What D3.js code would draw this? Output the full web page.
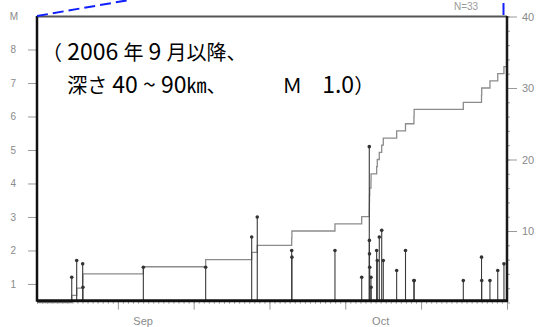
<!DOCTYPE html>
<html>
<head>
<meta charset="utf-8">
<script src="https://cdn.jsdelivr.net/npm/d3@7"></script>
<style>
  html, body { margin: 0; padding: 0; background: #fff; }
  svg { display: block; }
  .tick text { font-family: "Liberation Sans", Arial, sans-serif; }
</style>
</head>
<body>
<svg id="chart" width="547" height="327"></svg>
<script>
// Hypocentres at 40–90 km depth, M >= 1.0 (origin time, magnitude)
const eventTimes = [
  "2006-08-22T21:00", "2006-08-23T20:30", "2006-08-25T01:00", "2006-08-25T02:00",
  "2006-09-06T01:00", "2006-09-18T09:00", "2006-09-27T11:30", "2006-09-28T14:00",
  "2006-10-05T09:30", "2006-10-05T10:30", "2006-10-13T23:00", "2006-10-19T06:00",
  "2006-10-20T18:00", "2006-10-20T18:30", "2006-10-20T19:00", "2006-10-20T20:00",
  "2006-10-21T02:00", "2006-10-21T02:30", "2006-10-22T05:00", "2006-10-22T08:00",
  "2006-10-22T17:30", "2006-10-23T05:00", "2006-10-23T12:30", "2006-10-26T04:00",
  "2006-10-27T22:00", "2006-10-29T14:00", "2006-10-29T15:00", "2006-11-08T08:30",
  "2006-11-11T23:00", "2006-11-12T00:00", "2006-11-13T15:00", "2006-11-15T04:00",
  "2006-11-16T09:30"
];
const magnitudes = [
  1.2, 1.7, 1.6, 0.9,
  1.5, 1.5, 2.4, 3.0,
  2.0, 1.8, 2.0, 1.2,
  5.1, 2.3, 1.9, 1.5,
  1.2, 0.9, 2.0, 1.7,
  2.4, 2.6, 1.7, 1.4,
  2.0, 1.1, 1.1, 1.1,
  1.8, 1.1, 1.1, 1.4,
  1.6
];

// Axis settings
const periodStart = "2006-08-16";
const periodEnd = "2006-11-17";
const magDomain = [0.5, 9];
const magTicks = [1, 2, 3, 4, 5, 6, 7, 8];
const countDomain = [0, 40];
const countTicks = [10, 20, 30, 40];
const countMinorTicks = d3.range(0, 41, 2);
const majorDates = ["2006-09-01", "2006-09-16", "2006-10-01", "2006-10-16", "2006-10-31", "2006-11-17"];
const monthNames = ["Sep", "Oct"];
const monthNameDates = ["2006-09-06", "2006-10-23"];
const magAxisTitle = "M";
const noteLines = ["（ 2006 年 9 月以降、", "　 深さ 40 ~ 90㎞、　　     Ｍ　1.0）"];

const parseDay = d3.timeParse("%Y-%m-%d");
const parseTime = d3.timeParse("%Y-%m-%dT%H:%M");

const events = eventTimes.map((t, i) => ({ t: parseTime(t), m: magnitudes[i] }))
  .sort((a, b) => a.t - b.t);

const plotLeft = 37, plotRight = 507, plotTop = 16, plotBottom = 300.7;

const svg = d3.select("#chart");

const x = d3.scaleTime()
  .domain([parseDay(periodStart), parseDay(periodEnd)])
  .range([plotLeft, plotRight]);
const yM = d3.scaleLinear().domain(magDomain).range([plotBottom, plotTop]);
const yN = d3.scaleLinear().domain(countDomain).range([302.5, 16.5]);

const plot = svg.append("g");

// Cumulative number of events
const cumulative = [{ t: x.domain()[0], n: 0 }];
events.forEach((e, i) => cumulative.push({ t: e.t, n: i + 1 }));
cumulative.push({ t: x.domain()[1], n: events.length });

plot.append("path")
  .datum(cumulative)
  .attr("fill", "none")
  .attr("stroke", "#8c8c8c")
  .attr("stroke-width", 1.3)
  .attr("d", d3.line().curve(d3.curveStepAfter).x(d => x(d.t)).y(d => yN(d.n)));

// Magnitude stems
plot.selectAll("line.stem")
  .data(events)
  .join("line")
  .attr("class", "stem")
  .attr("x1", d => x(d.t)).attr("x2", d => x(d.t))
  .attr("y1", yM(magDomain[0])).attr("y2", d => yM(d.m))
  .attr("stroke", "#3a3a3a")
  .attr("stroke-width", 1.1);

plot.selectAll("circle.head")
  .data(events)
  .join("circle")
  .attr("class", "head")
  .attr("cx", d => x(d.t))
  .attr("cy", d => yM(d.m))
  .attr("r", 1.8)
  .attr("fill", "#333");

// Axes
const tickColor = "#9a9a9a";
const labelColor = "#8a8a8a";

function styleAxis(g) {
  g.select(".domain").remove();
  g.selectAll(".tick line").attr("stroke", tickColor);
  g.selectAll(".tick text").attr("fill", labelColor).attr("font-size", 10);
}

svg.append("g")
  .attr("transform", `translate(0,${plotBottom})`)
  .call(d3.axisBottom(x).ticks(d3.timeDay.every(1)).tickSize(3).tickFormat(""))
  .call(styleAxis);

svg.append("g")
  .attr("transform", `translate(0,${plotBottom})`)
  .call(d3.axisBottom(x).tickValues(majorDates.map(parseDay)).tickSize(9).tickFormat(""))
  .call(styleAxis);

svg.append("g")
  .selectAll("text")
  .data(monthNames)
  .join("text")
  .attr("x", (d, i) => x(parseDay(monthNameDates[i])))
  .attr("y", 325)
  .attr("text-anchor", "middle")
  .attr("font-family", "Liberation Sans, Arial, sans-serif")
  .attr("font-size", 11)
  .attr("fill", labelColor)
  .text(d => d);

svg.append("g")
  .attr("transform", `translate(${plotLeft},0)`)
  .call(d3.axisLeft(yM).tickValues(magTicks).tickSize(9).tickPadding(12).tickFormat(d3.format("d")))
  .call(styleAxis);

svg.append("text")
  .attr("x", 14)
  .attr("y", yM(magDomain[1]) + 4)
  .attr("text-anchor", "middle")
  .attr("font-family", "Liberation Sans, Arial, sans-serif")
  .attr("font-size", 10)
  .attr("fill", labelColor)
  .text(magAxisTitle);

svg.append("g")
  .attr("transform", `translate(${plotRight},0)`)
  .call(d3.axisRight(yN).tickValues(countMinorTicks).tickSize(3).tickFormat(""))
  .call(styleAxis);

svg.append("g")
  .attr("transform", `translate(${plotRight},0)`)
  .call(d3.axisRight(yN).tickValues(countTicks).tickSize(10).tickPadding(5).tickFormat(d3.format("d")))
  .call(styleAxis)
  .call(g => g.selectAll(".tick text").attr("font-size", 11));

// Frame
const frame = svg.append("g").attr("fill", "none");
frame.append("line").attr("x1", plotLeft).attr("x2", plotRight).attr("y1", plotTop + 0.5).attr("y2", plotTop + 0.5)
  .attr("stroke", "#555").attr("stroke-width", 2);
frame.append("line").attr("x1", plotLeft).attr("x2", plotLeft).attr("y1", plotTop).attr("y2", plotBottom + 1)
  .attr("stroke", "#111").attr("stroke-width", 2.5);
frame.append("line").attr("x1", plotRight).attr("x2", plotRight).attr("y1", plotTop).attr("y2", plotBottom + 1)
  .attr("stroke", "#1a1a1a").attr("stroke-width", 2.5);
frame.append("line").attr("x1", plotLeft).attr("x2", plotRight + 1).attr("y1", plotBottom).attr("y2", plotBottom)
  .attr("stroke", "#111").attr("stroke-width", 3);

// Event total
svg.append("text")
  .attr("x", 466)
  .attr("y", 10)
  .attr("text-anchor", "middle")
  .attr("font-family", "Liberation Sans, Arial, sans-serif")
  .attr("font-size", 10)
  .attr("fill", "#9a9a9a")
  .text("N=" + events.length);

// Leader lines toward the enlarged area
svg.append("path")
  .attr("d", `M${plotLeft},${plotTop} L${plotLeft + 92},0`)
  .attr("stroke", "#1020ff")
  .attr("stroke-width", 2)
  .attr("stroke-dasharray", "11,5")
  .attr("fill", "none");
svg.append("line")
  .attr("x1", plotRight - 3.5).attr("x2", plotRight - 3.5)
  .attr("y1", 3).attr("y2", plotTop - 1)
  .attr("stroke", "#1020ff")
  .attr("stroke-width", 2);

// Selection note: full-width (CJK) characters are set a little smaller than digits
const isWide = ch => /[\u3000-\u9fff\uff00-\uffef\u3300-\u33ff]/.test(ch);
function splitRuns(str) {
  const runs = [];
  for (const ch of str) {
    const wide = isWide(ch);
    if (runs.length && runs[runs.length - 1].wide === wide) runs[runs.length - 1].text += ch;
    else runs.push({ text: ch, wide });
  }
  return runs;
}

const note = svg.append("g")
  .attr("font-family", "Noto Sans CJK JP, sans-serif")
  .attr("fill", "#000");

note.selectAll("text")
  .data(noteLines)
  .join("text")
  .attr("x", 42)
  .attr("y", (d, i) => 60 + i * 33)
  .attr("xml:space", "preserve")
  .style("white-space", "pre")
  .selectAll("tspan")
  .data(d => splitRuns(d))
  .join("tspan")
  .attr("font-size", r => r.wide ? 20 : 23)
  .text(r => r.text);
</script>
</body>
</html>
